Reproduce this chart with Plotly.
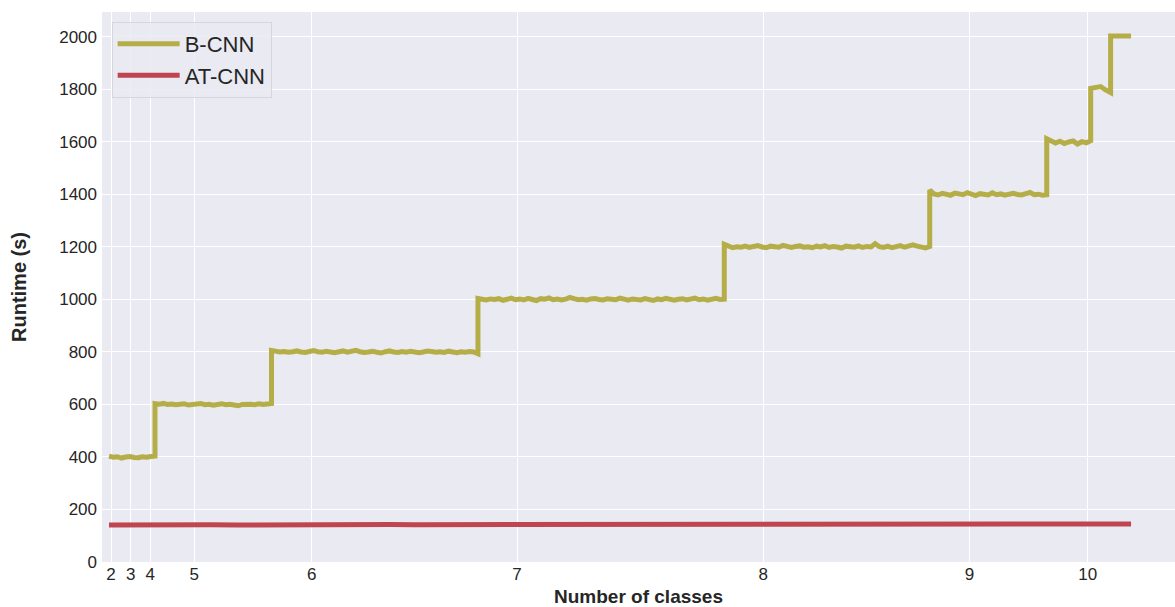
import numpy as np
import plotly.graph_objects as go

# ---- data (x in sample index units) ----
seg_start = [0, 45, 159, 361, 602, 803, 917.5, 960.5, 980]
seg_end = [45, 159, 361, 602, 803, 917.5, 960.5, 980, 1000]

b_seg1 = [403, 399, 401, 396, 400, 402, 398, 397, 401, 399, 402, 404]
b_seg2 = [603, 601, 604, 600, 602, 599, 601, 603, 598, 600, 602, 604, 599, 601, 597,
          600, 603, 599, 601, 598, 595, 600, 602, 601, 599, 603, 600, 602, 604]
b_seg3 = [806, 803, 800, 802, 799, 801, 804, 800, 798, 802, 805, 801, 799, 803, 800,
          797, 801, 804, 799, 802, 806, 801, 798, 800, 803, 799, 796, 801, 804, 800,
          798, 802, 799, 803, 801, 797, 800, 804, 802, 799, 801, 798, 803, 800, 797,
          801, 799, 802, 800, 793]
b_seg4 = [1004, 1001, 998, 1002, 1000, 1003, 997, 1001, 1005, 999, 1002, 998, 1004, 1000,
          996, 1003, 1001, 1006, 999, 1002, 998, 1001, 1008, 1003, 999, 1001, 997, 1002,
          1004, 1000, 998, 1003, 1001, 999, 1005, 1000, 997, 1002, 1000, 998, 1003, 1001,
          996, 1002, 999, 1004, 1000, 997, 1001, 1003, 998, 1000, 1005, 999, 1002, 997,
          1001, 1004, 1000, 1001]
b_seg5 = [1210, 1204, 1197, 1201, 1199, 1203, 1198, 1202, 1205, 1200, 1197, 1203, 1201,
          1199, 1206, 1200, 1198, 1202, 1204, 1199, 1201, 1197, 1203, 1200, 1205, 1198,
          1202, 1200, 1196, 1203, 1201, 1199, 1204, 1198, 1202, 1200, 1213, 1201, 1198,
          1203, 1197, 1200, 1205, 1199, 1202, 1208, 1203, 1198, 1196, 1202]
b_seg6 = [1417, 1402, 1398, 1404, 1400, 1397, 1405, 1401, 1399, 1407, 1400, 1396, 1403,
          1401, 1398, 1406, 1399, 1402, 1397, 1401, 1404, 1400, 1398, 1403, 1408, 1399,
          1401, 1397, 1399]
b_seg7 = [1612, 1606, 1596, 1603, 1594, 1600, 1604, 1592, 1601, 1597, 1605]
b_seg8 = [1804, 1807, 1811, 1798, 1788]
b_seg9 = [2004, 2004, 2004, 2004, 2004]
b_segments = [b_seg1, b_seg2, b_seg3, b_seg4, b_seg5, b_seg6, b_seg7, b_seg8, b_seg9]

at_cnn = [141, 142, 141, 143, 142, 141, 142, 142, 143, 141, 142, 143, 142, 142, 143, 142,
          143, 143, 142, 143, 143, 144, 143, 143, 144, 143, 144, 144, 144, 145, 144, 145,
          145, 144, 145, 146, 145, 146, 146, 146, 145]
at_x_start, at_x_end = 0, 1000

tick_pos = [2, 21.2, 40.4, 83.5, 198.3, 399.2, 640, 841.8, 957.6]
tick_labels = ["2", "3", "4", "5", "6", "7", "8", "9", "10"]
y_ticks = list(range(0, 2001, 200))

# ---- build series ----
bx, by = [], []
for s, e, vals in zip(seg_start, seg_end, b_segments):
    bx.extend(np.linspace(s, e, len(vals)).tolist())
    by.extend(vals)
ax = np.linspace(at_x_start, at_x_end, len(at_cnn)).tolist()

FONT = "Liberation Sans, Arial, Helvetica, sans-serif"
fig = go.Figure()
fig.add_trace(go.Scatter(x=bx, y=by, mode="lines", name="B-CNN",
                         line=dict(color="#b5ae48", width=5)))
fig.add_trace(go.Scatter(x=ax, y=at_cnn, mode="lines", name="AT-CNN",
                         line=dict(color="#bf4650", width=5)))

fig.update_layout(
    width=1175, height=607,
    margin=dict(l=102, r=0, t=12, b=45),
    paper_bgcolor="white", plot_bgcolor="#eaeaf2",
    font=dict(family=FONT, color="#262626", size=17),
    showlegend=True,
    legend=dict(x=0.009, y=0.982, xanchor="left", yanchor="top",
                bgcolor="rgba(234,234,242,0.85)", bordercolor="#d6d6de", borderwidth=1,
                font=dict(size=22, family=FONT, color="#262626"), itemwidth=62),
    xaxis=dict(range=[-6.85, 1043], tickmode="array", tickvals=tick_pos, ticktext=tick_labels,
               showgrid=True, gridcolor="white", gridwidth=1, zeroline=False, showline=False,
               ticks="", tickfont=dict(size=17),
               title=dict(text="<b>Number of classes</b>", font=dict(size=19), standoff=6)),
    yaxis=dict(range=[0, 2095], tickmode="array", tickvals=y_ticks,
               showgrid=True, gridcolor="white", gridwidth=1, zeroline=False, showline=False,
               ticks="", tickfont=dict(size=17), ticklabelstandoff=4,
               title=dict(text="<b>Runtime (s)</b>", font=dict(size=20), standoff=27)),
)

fig.write_html("out.html", config={"displayModeBar": False},
               post_script="document.body.style.margin='0';")
